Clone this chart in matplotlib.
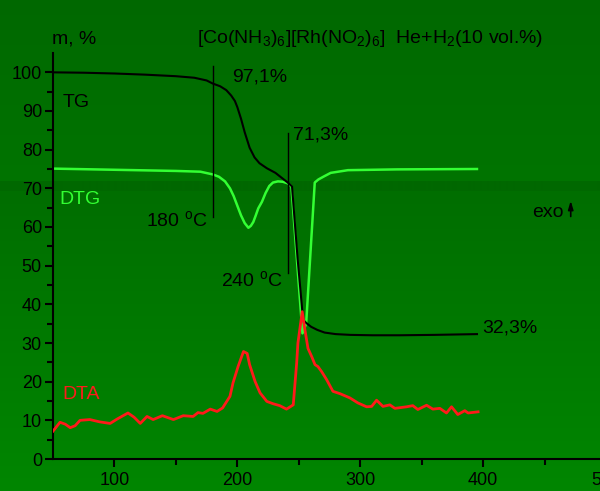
import numpy as np
import matplotlib
matplotlib.use('Agg')
import matplotlib.pyplot as plt

plt.rcParams['font.family'] = ['Liberation Sans', 'DejaVu Sans']
plt.rcParams['mathtext.default'] = 'regular'

# TG, mass %
tg_t = [50, 75, 100, 125, 150, 165, 175, 180, 186, 191, 195, 198, 200, 203, 206,
        210, 214, 218, 224, 231, 237, 241, 244.5, 249, 253.5, 256, 260, 265, 271,
        280, 292, 310, 332, 360, 395]
tg_m = [100, 99.9, 99.7, 99.4, 99.0, 98.6, 97.9, 97.1, 96.4, 95.4, 94.0, 92.6, 91.0,
        88.0, 84.5, 80.5, 78.0, 76.5, 75.2, 74.0, 72.5, 71.5, 70.5, 52.0, 36.0, 35.2,
        34.2, 33.4, 32.7, 32.3, 32.1, 32.0, 32.0, 32.1, 32.3]

# DTG
dtg_t = [50, 100, 150, 170, 180, 185, 190, 194, 197, 200, 203, 206, 209, 211, 213,
         215, 217, 220, 223, 226, 229, 233, 237, 241, 244, 253, 256, 263, 266, 270,
         276, 290, 330, 395]
dtg_v = [75.1, 74.8, 74.5, 74.3, 73.6, 73.0, 71.8, 70.0, 68.0, 65.5, 63.0, 61.0, 59.8,
         60.3, 61.3, 63.0, 64.8, 66.5, 68.8, 70.6, 71.5, 71.8, 71.7, 71.3, 70.5, 32.5,
         35.0, 71.5, 72.3, 73.0, 74.0, 74.7, 74.9, 75.0]

# DTA
dta_t = [50, 55.7, 60, 64, 68, 72, 80, 88, 96.5, 102, 111, 116, 121, 126.5, 131.5,
         139, 148, 156, 164, 168, 172, 178, 183.5, 188, 194, 196.5, 200.6, 205, 208,
         210, 214.5, 218.5, 224, 229, 234.5, 240, 244.5, 245.5, 248.3, 249.3, 252.8,
         255, 257.5, 260.5, 263.2, 265.6, 268.6, 272.7, 277.8, 283.5, 291.6, 298.1,
         305.2, 309.3, 313.3, 318.5, 324.1, 328.2, 337.7, 342.8, 346.9, 354, 359.1,
         364.8, 370.2, 374.3, 379.4, 385.1, 387.8, 395.9]
dta_v = [7.2, 9.5, 9.0, 8.1, 8.6, 10.0, 10.2, 9.6, 9.2, 10.3, 11.9, 10.8, 9.2, 11.0,
         10.2, 11.2, 10.2, 11.2, 11.0, 12.0, 11.8, 12.9, 12.3, 13.2, 16.2, 19.7, 23.9,
         27.8, 27.3, 24.4, 20.0, 17.1, 14.9, 14.3, 13.8, 12.9, 13.8, 14.0, 24.9, 30.0,
         38.1, 33.4, 28.6, 26.5, 24.4, 23.9, 22.6, 20.5, 17.5, 16.9, 15.8, 14.5, 13.5,
         13.6, 15.2, 13.6, 14.0, 13.1, 13.5, 13.8, 12.8, 13.9, 12.9, 13.1, 11.9, 13.5,
         11.5, 12.5, 11.9, 12.2]

fig = plt.figure(figsize=(6.0, 4.91), dpi=100)

# green background: two vertical gradients with a darker seam between them
h = 491
g = np.zeros(h)
g[:181] = np.linspace(104, 116, 181)
g[181:191] = 104
g[191:] = np.linspace(110, 134, h - 191)
img = np.zeros((h, 1, 3))
img[:, 0, 1] = g / 255
bg = fig.add_axes([0, 0, 1, 1], zorder=-1)
bg.imshow(img, aspect='auto', extent=[0, 1, 0, 1], origin='upper')
bg.axis('off')

ax = fig.add_axes([53 / 600, 32 / 491, 553 / 600, 406 / 491])
ax.patch.set_alpha(0)

ax.plot(tg_t, tg_m, color='black', lw=1.5, zorder=3)
ax.plot(dtg_t, dtg_v, color='#33ff33', lw=1.8, zorder=2)
ax.plot(dta_t, dta_v, color='#ff1a1a', lw=2, zorder=4)

ax.set_xlim(50, 500)
ax.set_ylim(0, 105)
ax.set_xticks([100, 200, 300, 400, 500])
ax.set_xticks([150, 250, 350, 450], minor=True)
ax.set_yticks(range(0, 101, 10))
ax.set_yticks(range(5, 105, 10), minor=True)
ax.tick_params(which='both', direction='out', width=1.5, labelsize=13, color='black')
ax.tick_params(which='major', length=6)
ax.tick_params(which='minor', length=4)
ax.tick_params(axis='y', pad=2)
for s in ['top', 'right']:
    ax.spines[s].set_visible(False)
for s in ['left', 'bottom']:
    ax.spines[s].set_linewidth(1.5)

# temperature markers
ax.plot([180, 180], [62.5, 101.7], color='black', lw=1)
ax.plot([241, 241], [48.1, 84.2], color='black', lw=1)

fs = 14
ax.text(49.5, 108.7, 'm, %', fontsize=fs, va='center', ha='left', clip_on=False)
ax.text(167, 108.7, r'[Co(NH$_3$)$_6$][Rh(NO$_2$)$_6$]  He+H$_2$(10 vol.%)',
        fontsize=fs, va='center', ha='left', clip_on=False)
ax.text(57.5, 92.2, 'TG', fontsize=fs, va='center')
ax.text(55, 67.2, 'DTG', fontsize=fs, va='center', color='#33ff33')
ax.text(57.5, 16.6, 'DTA', fontsize=fs, va='center', color='#ff1a1a')
ax.text(195.7, 98.9, '97,1%', fontsize=fs, va='center')
ax.text(175.4, 61.8, r'180 $^o$C', fontsize=fs, va='center', ha='right')
ax.text(245.3, 83.7, '71,3%', fontsize=fs, va='center')
ax.text(237, 46.3, r'240 $^o$C', fontsize=fs, va='center', ha='right')
ax.text(399.5, 34, '32,3%', fontsize=fs, va='center')
ax.text(440, 63.8, 'exo', fontsize=fs, va='center')
ax.annotate('', xy=(471.3, 67.5), xytext=(471.3, 62.0),
            arrowprops=dict(arrowstyle='-|>,head_width=0.15,head_length=0.5',
                            color='black', lw=1.2))

fig.savefig('out.png', dpi=100)
